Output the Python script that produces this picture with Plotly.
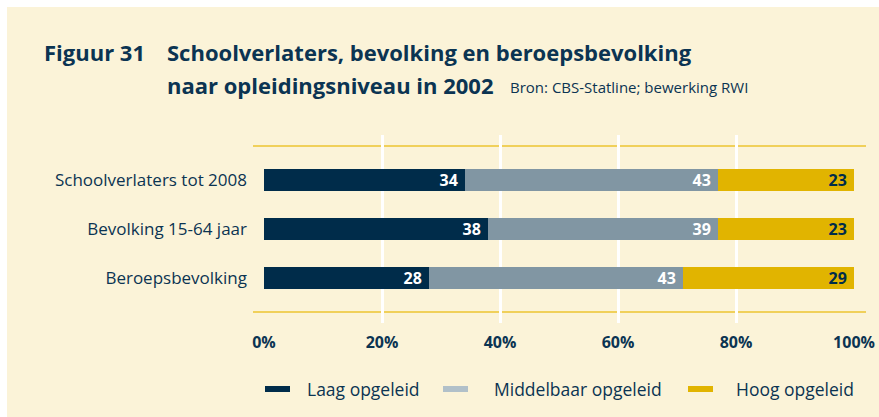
import plotly.graph_objects as go

categories = ["Beroepsbevolking", "Bevolking 15-64 jaar", "Schoolverlaters tot 2008"]
laag = [28, 38, 34]
middelbaar = [43, 39, 43]
hoog = [29, 23, 23]
series_names = ["Laag opgeleid", "Middelbaar opgeleid", "Hoog opgeleid"]
tick_vals = [0, 20, 40, 60, 80, 100]
tick_text = ["0%", "20%", "40%", "60%", "80%", "100%"]

NAVY = "#002C4A"
GREY = "#8196A3"
GOLD = "#E1B400"
TEXT = "#0B3452"
CREAM = "#FBF3D8"
FONT = "Open Sans"

W, H = 879, 417
L, T = 264, 135
pw, ph = 590, 188
R, B = W - L - pw, H - T - ph

fig = go.Figure()
for vals, name, col, tcol in [(laag, series_names[0], NAVY, "white"),
                              (middelbaar, series_names[1], GREY, "white"),
                              (hoog, series_names[2], GOLD, NAVY)]:
    fig.add_trace(go.Bar(
        y=categories, x=vals, name=name, orientation="h",
        marker=dict(color=col, line=dict(width=0)),
        width=0.45,
        text=[str(v) + "\u00a0" for v in vals], textposition="inside",
        insidetextanchor="end", textangle=0, constraintext="none",
        textfont=dict(family=FONT, size=16, color=tcol, weight="bold"),
        showlegend=False, hoverinfo="skip",
    ))

def px_x(x):
    return (x - L) / pw

def px_y(y):
    return (H - B - y) / ph

shapes = [
    dict(type="rect", xref="paper", yref="paper", x0=px_x(7), x1=px_x(W + 5),
         y0=px_y(H + 5), y1=px_y(7), fillcolor=CREAM, line=dict(width=0), layer="below"),
]
for yy in [146, 312]:
    shapes.append(dict(type="line", xref="paper", yref="paper", x0=px_x(253), x1=px_x(866),
                       y0=px_y(yy), y1=px_y(yy), line=dict(color="#EDC430", width=1.5), layer="below"))

legend_items = [(265, 305, NAVY, series_names[0]),
                (443, 492, "#B1C0C9", series_names[1]),
                (688, 734, GOLD, series_names[2])]
annotations = []
for sx, tx, col, name in legend_items:
    shapes.append(dict(type="rect", xref="paper", yref="paper", x0=px_x(sx), x1=px_x(sx + 25),
                       y0=px_y(392), y1=px_y(386), fillcolor=col, line=dict(width=0)))
    annotations.append(dict(xref="paper", yref="paper", x=px_x(tx), y=px_y(389), text=name,
                            showarrow=False, xanchor="left", yanchor="middle",
                            font=dict(family=FONT, size=17.5, color=TEXT)))

annotations += [
    dict(xref="paper", yref="paper", x=px_x(42), y=px_y(52), text="<b>Figuur 31</b>",
         showarrow=False, xanchor="left", yanchor="middle", font=dict(family=FONT, size=22, color=TEXT)),
    dict(xref="paper", yref="paper", x=px_x(165), y=px_y(52),
         text="<b>Schoolverlaters, bevolking en beroepsbevolking</b>",
         showarrow=False, xanchor="left", yanchor="middle", font=dict(family=FONT, size=22, color=TEXT)),
    dict(xref="paper", yref="paper", x=px_x(165), y=px_y(85),
         text="<b>naar opleidingsniveau in 2002</b>",
         showarrow=False, xanchor="left", yanchor="middle", font=dict(family=FONT, size=22, color=TEXT)),
    dict(xref="paper", yref="paper", x=px_x(508), y=px_y(87),
         text="Bron: CBS-Statline; bewerking RWI",
         showarrow=False, xanchor="left", yanchor="middle", font=dict(family=FONT, size=15, color=TEXT)),
]

fig.update_layout(
    width=W, height=H,
    margin=dict(l=L, r=R, t=T, b=B, pad=0, autoexpand=False),
    paper_bgcolor="white", plot_bgcolor=CREAM,
    barmode="stack", bargap=0,
    shapes=shapes, annotations=annotations,
    font=dict(family=FONT, color=TEXT),
    xaxis=dict(range=[0, 100], tickvals=tick_vals, ticktext=tick_text, automargin=False,
               showgrid=True, gridcolor="white", gridwidth=2.5, zeroline=False,
               showline=False, ticks="", tickfont=dict(family=FONT, size=16, color=TEXT, weight="bold"),
               ticklabelstandoff=8, fixedrange=True),
    yaxis=dict(range=[-0.92, 2.92], showgrid=False, zeroline=False, showline=False, ticks="",
               automargin=False, fixedrange=True,
               tickfont=dict(family=FONT, size=17, color=TEXT), ticklabelstandoff=16),
)

fig.write_html("out.html", config={"displayModeBar": False},
               post_script="document.body.style.margin='0';document.body.style.overflow='hidden';")
